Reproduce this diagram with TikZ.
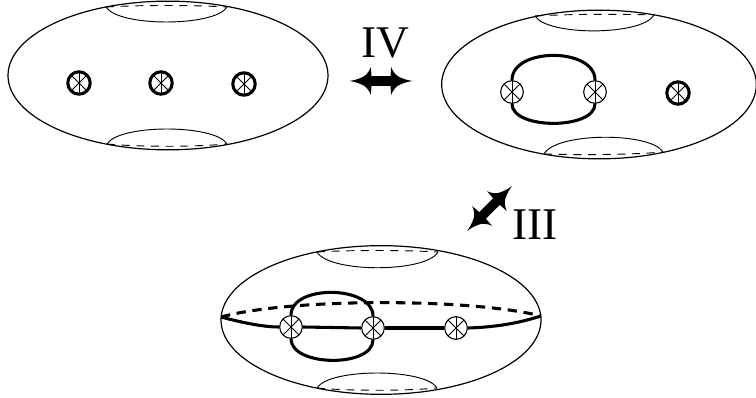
\documentclass[tikz,border=0pt]{standalone}
\usepackage{fontspec}
\setmainfont{Liberation Serif}
\usetikzlibrary{shapes.geometric}
\pgfdeclarearrow{
	name=Barb,
	setup code={%
		\pgfarrowssettipend{0pt}
		\pgfarrowssetlineend{-14pt}
		\pgfarrowssetvisualbackend{-14pt}
		\pgfarrowssetbackend{-16.5pt}
		\pgfarrowshullpoint{0pt}{0pt}
		\pgfarrowshullpoint{-16.5pt}{10.5pt}
		\pgfarrowshullpoint{-16.5pt}{-10.5pt}
	},
	drawing code={%
		\pgfpathmoveto{\pgfpointorigin}
		\pgfpathcurveto{\pgfpoint{-5pt}{.6pt}}{\pgfpoint{-9pt}{2.5pt}}{\pgfpoint{-11pt}{3.6pt}}
		\pgfpathcurveto{\pgfpoint{-13pt}{5pt}}{\pgfpoint{-15pt}{7.5pt}}{\pgfpoint{-16pt}{10.5pt}}
		\pgfpathlineto{\pgfpoint{-16.5pt}{3.5pt}}
		\pgfpathlineto{\pgfpoint{-16.5pt}{-3.5pt}}
		\pgfpathlineto{\pgfpoint{-16pt}{-10.5pt}}
		\pgfpathcurveto{\pgfpoint{-15pt}{-7.5pt}}{\pgfpoint{-13pt}{-5pt}}{\pgfpoint{-11pt}{-3.6pt}}
		\pgfpathcurveto{\pgfpoint{-9pt}{-2.5pt}}{\pgfpoint{-5pt}{-.6pt}}{\pgfpointorigin}
		\pgfpathclose
		\pgfusepathqfill
	}
}
\tikzset{%
	surface/.style={draw, ellipse, line width=.9pt, inner sep=0pt, minimum height=111.5pt},
	rim/.style={line width=.7pt},
	rimback/.style={line width=.7pt, dash pattern=on 6pt off 5pt},
	spokes/.style={path picture={
		\draw[line width=.7pt] (path picture bounding box.north) -- (path picture bounding box.south);
		\draw[line width=.7pt] (path picture bounding box.north west) -- (path picture bounding box.south east);
		\draw[line width=.7pt] (path picture bounding box.north east) -- (path picture bounding box.south west);
	}},
	puncture/.style={draw, circle, fill=white, inner sep=0pt, minimum size=17pt, line width=.8pt, spokes},
	bold/.style={draw, circle, fill=white, inner sep=0pt, minimum size=16.8pt, line width=2.3pt, spokes},
	band/.style={line width=2.3pt},
	bandback/.style={line width=2.3pt, dash pattern=on 7pt off 5pt},
	flip/.style={Barb-Barb, line width=7pt},
	move/.style={inner sep=0pt, font=\fontsize{34}{34}\selectfont}
}
\begin{document}
\begin{tikzpicture}[x=.75pt, y=-.75pt]
	\useasboundingbox (0,0) rectangle (756,398);

	\node[surface, minimum width=240pt] (s1) at (168,75.5) {};
	\draw[rim] (106,7) .. controls (118,27) and (215,27) .. (227,7);
	\draw[rimback] (106,7) .. controls (140,5) and (193,5) .. (227,7);
	\draw[rim] (107,144) .. controls (119,124) and (215,124) .. (227,144);
	\draw[rimback] (107,144) .. controls (140,147) and (193,147) .. (227,144);
	\node[bold] (a1) at (79,83) {};
	\node[bold] (a2) at (161,83) {};
	\node[bold] (a3) at (244,84) {};

	\node[surface, minimum width=236pt] (s2) at (599,84.5) {};
	\draw[rim] (535,16) .. controls (547,36) and (642,36) .. (654,15);
	\draw[rimback] (535,16) .. controls (570,14) and (620,14) .. (654,15);
	\draw[rim] (544,154) .. controls (556,132) and (651,132) .. (663,152);
	\draw[rimback] (544,154) .. controls (580,155) and (628,155) .. (663,152);
	\node[puncture] (b1) at (512,92) {};
	\node[puncture] (b2) at (595,92) {};
	\node[bold] (b3) at (678,93) {};
	\draw[band] (b1.north) .. controls +(0,-33) and +(0,-33) .. (b2.north);
	\draw[band] (b1.south) .. controls +(0,26) and +(0,26) .. (b2.south);

	\node[surface, minimum width=240pt] (s3) at (381,320) {};
	\coordinate (eqL) at (221,317);
	\coordinate (eqR) at (541,316);
	\draw[rim] (317,252) .. controls (329,273) and (426,273) .. (438,252);
	\draw[rimback] (317,252) .. controls (350,250) and (405,250) .. (438,252);
	\draw[rim] (317,388) .. controls (329,368) and (425,368) .. (437,388);
	\draw[rimback] (317,388) .. controls (350,391) and (405,391) .. (437,388);
	\node[puncture] (c1) at (291,327) {};
	\node[puncture] (c2) at (373,328) {};
	\node[puncture] (c3) at (456,328) {};
	\draw[band] (c1.north) .. controls +(0,-31) and +(0,-31) .. (c2.north);
	\draw[band] (c1.south) .. controls +(0,28) and +(0,28) .. (c2.south);
	\draw[bandback] (eqL) .. controls (290,298) and (470,298) .. (eqR);
	\draw[band] (eqL) .. controls (240,322) and (262,327) .. (c1.west);
	\draw[band] (c1.east) -- (c2.west);
	\draw[band] (c2.east) -- (c3.west);
	\draw[band] (c3.east) .. controls (500,327) and (522,322) .. (eqR);

	\node[move] (four) at (385,43) {IV};
	\coordinate (fourL) at (349.5,81);
	\coordinate (fourR) at (412.5,81);
	\draw[flip] (fourL) -- (fourR);

	\coordinate (threeL) at (467,231);
	\coordinate (threeR) at (512,186);
	\draw[flip] (threeL) -- (threeR);
	\node[move] (three) at (535,224.5) {III};
\end{tikzpicture}
\end{document}
